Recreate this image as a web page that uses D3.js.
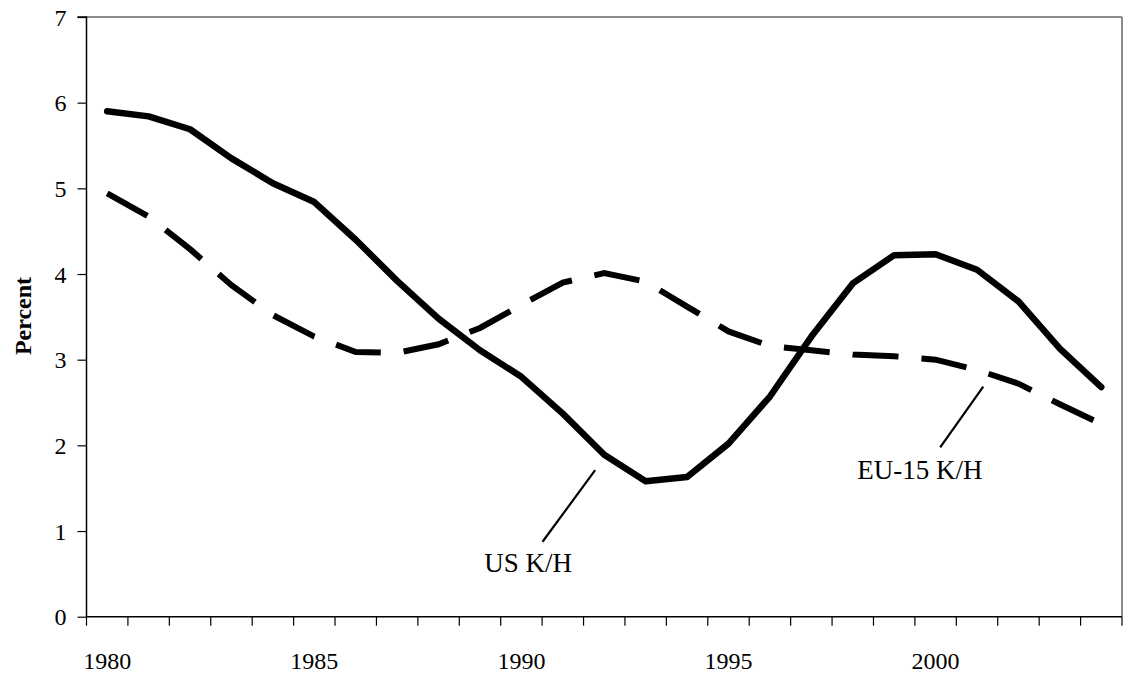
<!DOCTYPE html>
<html>
<head>
<meta charset="utf-8">
<script src="https://cdn.jsdelivr.net/npm/d3@7"></script>
<style>
  html, body { margin: 0; padding: 0; background: #fff; }
  svg { display: block; }
  text { font-family: "Liberation Serif", "Times New Roman", serif; fill: #000; }
</style>
</head>
<body>
<svg id="chart" width="1128" height="677"></svg>
<script>
const years = [1980,1981,1982,1983,1984,1985,1986,1987,1988,1989,1990,1991,1992,1993,1994,1995,1996,1997,1998,1999,2000,2001,2002,2003,2004];
const usKH = [5.90,5.84,5.69,5.35,5.06,4.84,4.40,3.92,3.48,3.11,2.80,2.37,1.89,1.58,1.63,2.02,2.57,3.27,3.89,4.22,4.23,4.05,3.68,3.13,2.68];
const euKH = [4.94,4.67,4.29,3.87,3.52,3.27,3.09,3.08,3.18,3.37,3.64,3.90,4.01,3.91,3.62,3.33,3.16,3.11,3.06,3.04,3.00,2.88,2.72,2.48,2.25];
const yTicks = [0,1,2,3,4,5,6,7];
const xLabelYears = [1980,1985,1990,1995,2000];
const yTitle = "Percent";
const annotations = [
  { label: "US K/H", year: 1991.78, value: 1.71, textYear: 1990.16, textValue: 0.525, lx: 1990.51, lv: 0.875 },
  { label: "EU-15 K/H", year: 2001.15, value: 2.685, textYear: 1999.62, textValue: 1.607, lx: 2000.11, lv: 1.977 }
];

const svg = d3.select("#chart");
const L = 86.5, R = 1122, T = 17, B = 616.7;

const x = d3.scaleBand().domain(years).range([L, R]).padding(0);
const xc = d => x(d) + x.bandwidth() / 2;
const xLin = d3.scaleLinear().domain([years[0] - 0.5, years[years.length - 1] + 0.5]).range([L, R]);
const y = d3.scaleLinear().domain([0, 7]).range([B, T]);

// plot border (top/right gray)
svg.append("line").attr("x1", L).attr("x2", R).attr("y1", T).attr("y2", T)
  .attr("stroke", "#8c8c8c").attr("stroke-width", 2);
svg.append("line").attr("x1", R).attr("x2", R).attr("y1", T).attr("y2", B)
  .attr("stroke", "#8c8c8c").attr("stroke-width", 2);

// y axis
const yAxis = d3.axisLeft(y).tickValues(yTicks).tickSize(9).tickPadding(11).tickFormat(d3.format("d"));
const gy = svg.append("g").attr("transform", `translate(${L},0)`).call(yAxis);
gy.select(".domain").attr("stroke", "#000").attr("stroke-width", 1.5).attr("d", `M-9,${T}H0V${B}`);
gy.selectAll(".tick line").attr("stroke", "#000").attr("stroke-width", 1.2);
gy.selectAll(".tick text").style("font-size", "24px").attr("dy", "0.34em")
  .style("font-family", '"Liberation Serif", serif');

// x axis: tick marks at category boundaries
const boundaries = years.map(d => x(d)).concat([R]);
const gx = svg.append("g");
gx.append("line").attr("x1", L).attr("x2", R).attr("y1", B).attr("y2", B)
  .attr("stroke", "#000").attr("stroke-width", 1.5);
gx.selectAll("line.tk").data(boundaries).enter().append("line").attr("class", "tk")
  .attr("x1", d => d).attr("x2", d => d).attr("y1", B).attr("y2", B + 9)
  .attr("stroke", "#000").attr("stroke-width", 1.2);
const xAxis = d3.axisBottom(x).tickValues(xLabelYears).tickSize(0).tickPadding(52);
const gxl = svg.append("g").attr("transform", `translate(0,${B})`).call(xAxis);
gxl.select(".domain").remove();
gxl.selectAll(".tick text").style("font-size", "24px").attr("dy", "0").attr("y", 52)
  .style("font-family", '"Liberation Serif", serif');

// y title
svg.append("text").attr("transform", `translate(31,316) rotate(-90)`)
  .attr("text-anchor", "middle").style("font-size", "24px").style("font-weight", "bold")
  .text(yTitle);

// lines
const line = d3.line().x(d => xc(d[0])).y(d => y(d[1])).curve(d3.curveLinear);
svg.append("path").datum(years.map((yr, i) => [yr, euKH[i]]))
  .attr("d", line).attr("fill", "none").attr("stroke", "#000")
  .attr("stroke-width", 6).attr("stroke-dasharray", "46,23").attr("stroke-linejoin", "miter");
svg.append("path").datum(years.map((yr, i) => [yr, usKH[i]]))
  .attr("d", line).attr("fill", "none").attr("stroke", "#000")
  .attr("stroke-width", 6.5).attr("stroke-linecap", "round").attr("stroke-linejoin", "round");

// annotations
annotations.forEach(a => {
  svg.append("line")
    .attr("x1", xLin(a.year)).attr("y1", y(a.value))
    .attr("x2", xLin(a.lx)).attr("y2", y(a.lv))
    .attr("stroke", "#000").attr("stroke-width", 2.2);
  svg.append("text").attr("x", xLin(a.textYear)).attr("y", y(a.textValue))
    .attr("text-anchor", "middle").style("font-size", "27px").text(a.label);
});
</script>
</body>
</html>
